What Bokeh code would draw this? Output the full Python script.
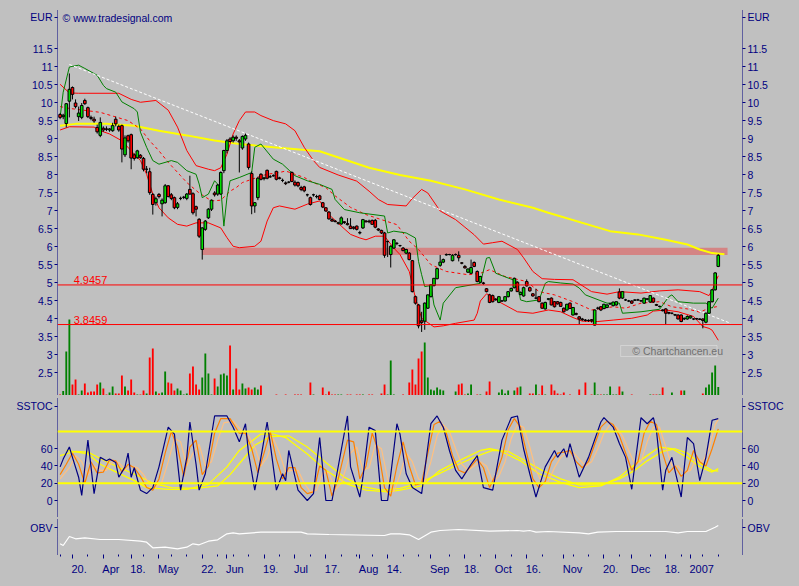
from bokeh.plotting import figure
from bokeh.models import (ColumnDataSource, Range1d, LinearAxis, FixedTicker, Span, Label,
                          BoxAnnotation, CustomJSTickFormatter)
from bokeh.layouts import column
from bokeh.embed import file_html
from bokeh.resources import INLINE

# ---------------- data (trading-day index 0 = 14 Mar 2006 ... 213 = 15 Jan 2007) ----------------
open_ = [9.68, 9.62, 9.43, 10.05, 10.43, 10.00, 9.62, 9.60, 10.07, 9.87,
         9.60, 9.55, 9.32, 9.10, 9.30, 9.28, 9.25, 9.23, 9.55, 9.35,
         9.37, 8.56, 9.09, 9.12, 8.56, 8.48, 8.55, 8.46, 8.16, 8.09,
         7.46, 7.23, 7.46, 7.20, 7.23, 7.70, 7.45, 7.37, 7.10, 7.35,
         7.38, 7.35, 7.60, 7.48, 7.12, 6.77, 5.93, 6.49, 6.81, 7.05,
         7.50, 7.47, 7.47, 8.12, 8.68, 9.00, 8.95, 9.05, 8.95, 8.75,
         9.00, 8.86, 8.04, 7.14, 7.37, 8.02, 7.90, 8.13, 7.95, 7.98,
         8.10, 7.92, 7.85, 7.78, 7.80, 8.07, 7.80, 7.79, 7.65, 7.67,
         7.45, 7.37, 7.45, 7.40, 7.42, 7.23, 7.09, 6.97, 6.76, 6.72,
         6.66, 6.64, 6.70, 6.65, 6.58, 6.55, 6.58, 6.40, 6.53, 6.72,
         6.72, 6.74, 6.74, 6.50, 6.46, 6.39, 6.15, 5.79, 5.97, 6.10,
         6.04, 5.97, 5.83, 5.83, 5.62, 4.62, 4.39, 3.95, 3.94, 4.30,
         4.62, 4.93, 5.12, 5.49, 5.58, 5.78, 5.79, 5.62, 5.79, 5.77,
         5.56, 5.46, 5.30, 5.27, 5.57, 5.32, 5.02, 5.00, 4.84, 4.67,
         4.65, 4.55, 4.46, 4.50, 4.50, 4.62, 4.78, 4.87, 5.02, 4.68,
         4.64, 5.04, 4.87, 4.70, 4.58, 4.62, 4.44, 4.28, 4.55, 4.58,
         4.48, 4.48, 4.46, 4.30, 4.25, 4.44, 4.11, 4.15, 4.06, 4.00,
         3.97, 3.96, 3.98, 3.83, 4.30, 4.34, 4.29, 4.32, 4.42, 4.37,
         4.39, 4.75, 4.58, 4.53, 4.50, 4.50, 4.52, 4.53, 4.50, 4.44,
         4.55, 4.47, 4.58, 4.40, 4.35, 4.25, 4.28, 4.18, 4.16, 4.12,
         4.11, 4.11, 4.00, 4.00, 4.03, 4.00, 4.01, 4.00, 4.00, 3.91,
         4.16, 4.48, 4.81, 5.46]
high_ = [9.72, 9.70, 10.00, 10.82, 10.46, 10.10, 9.90, 10.00, 10.12, 9.90,
         9.65, 9.62, 9.40, 9.60, 9.35, 9.35, 9.30, 9.45, 9.62, 9.40,
         9.40, 9.10, 9.12, 9.15, 8.60, 8.70, 8.58, 8.50, 8.25, 8.20,
         7.50, 7.40, 7.50, 7.35, 7.75, 7.72, 7.50, 7.40, 7.25, 7.40,
         7.42, 7.50, 7.98, 7.52, 7.15, 6.80, 6.55, 6.75, 7.08, 7.32,
         7.55, 7.75, 8.10, 8.70, 9.00, 9.05, 9.10, 9.10, 9.00, 9.10,
         9.15, 8.90, 8.10, 7.25, 7.95, 8.05, 7.95, 8.15, 8.00, 8.02,
         8.12, 7.95, 7.90, 7.82, 7.83, 8.10, 7.85, 7.82, 7.70, 7.70,
         7.48, 7.40, 7.48, 7.45, 7.45, 7.25, 7.10, 7.00, 6.80, 6.75,
         6.70, 6.85, 6.72, 6.80, 6.80, 6.58, 6.60, 6.45, 6.78, 6.75,
         6.76, 6.76, 6.78, 6.52, 6.48, 6.42, 6.18, 6.05, 6.22, 6.14,
         6.06, 6.00, 5.95, 5.86, 5.64, 4.65, 4.42, 4.20, 4.46, 4.68,
         4.96, 5.14, 5.42, 5.78, 5.68, 5.82, 5.81, 5.80, 5.82, 5.88,
         5.58, 5.50, 5.40, 5.65, 5.60, 5.35, 5.20, 5.03, 4.86, 4.70,
         4.68, 4.58, 4.64, 4.53, 4.63, 4.77, 4.87, 5.15, 5.04, 4.76,
         4.90, 5.10, 4.90, 4.72, 4.84, 4.64, 4.46, 4.48, 4.58, 4.60,
         4.50, 4.50, 4.48, 4.32, 4.42, 4.46, 4.33, 4.18, 4.08, 4.03,
         4.00, 3.99, 4.00, 4.26, 4.34, 4.36, 4.42, 4.41, 4.45, 4.48,
         4.49, 4.85, 4.77, 4.56, 4.53, 4.52, 4.55, 4.56, 4.53, 4.59,
         4.58, 4.66, 4.60, 4.42, 4.37, 4.27, 4.30, 4.20, 4.18, 4.14,
         4.13, 4.13, 4.04, 4.10, 4.09, 4.02, 4.03, 4.02, 4.02, 4.18,
         4.50, 4.83, 5.30, 5.80]
low_ = [9.55, 9.55, 9.32, 9.60, 10.10, 9.85, 9.50, 9.55, 9.95, 9.58,
        9.52, 9.45, 9.15, 9.05, 9.20, 9.22, 9.20, 9.20, 9.35, 9.20,
        8.35, 8.50, 8.90, 8.16, 8.40, 8.45, 8.45, 8.10, 8.05, 7.45,
        6.90, 7.15, 7.35, 6.85, 7.20, 7.38, 7.30, 7.05, 7.05, 7.30,
        7.33, 7.30, 7.45, 6.90, 6.85, 6.25, 5.65, 6.45, 6.78, 7.00,
        7.40, 7.42, 7.45, 8.05, 8.60, 8.90, 8.90, 8.95, 8.07, 8.70,
        8.95, 8.15, 6.91, 6.95, 7.30, 7.85, 7.85, 7.88, 7.92, 7.95,
        7.85, 7.88, 7.80, 7.72, 7.77, 7.80, 7.68, 7.66, 7.55, 7.52,
        7.40, 7.15, 7.40, 7.35, 7.30, 7.08, 6.98, 6.76, 6.70, 6.68,
        6.62, 6.62, 6.64, 6.60, 6.50, 6.48, 6.46, 6.35, 6.50, 6.68,
        6.66, 6.62, 6.52, 6.44, 6.36, 5.70, 5.72, 5.43, 5.95, 6.05,
        6.00, 5.88, 5.80, 5.63, 4.74, 4.40, 3.74, 3.64, 3.70, 4.28,
        4.60, 4.90, 5.10, 5.45, 5.55, 5.76, 5.77, 5.60, 5.76, 5.60,
        5.52, 5.40, 5.28, 5.25, 5.44, 5.02, 5.00, 4.95, 4.74, 4.44,
        4.46, 4.50, 4.44, 4.48, 4.48, 4.60, 4.76, 4.85, 4.75, 4.66,
        4.62, 4.90, 4.76, 4.62, 4.55, 4.47, 4.28, 4.26, 4.52, 4.38,
        4.32, 4.40, 4.34, 4.18, 4.23, 4.28, 4.10, 4.10, 3.85, 3.95,
        3.93, 3.92, 3.90, 3.82, 4.26, 4.22, 4.27, 4.30, 4.40, 4.35,
        4.37, 4.55, 4.56, 4.50, 4.47, 4.42, 4.50, 4.50, 4.47, 4.42,
        4.52, 4.45, 4.45, 4.36, 4.32, 4.21, 3.85, 4.13, 4.13, 4.08,
        3.99, 3.91, 3.97, 3.98, 4.01, 3.97, 3.98, 3.97, 3.74, 3.88,
        4.14, 4.46, 4.79, 5.44]
close_ = [9.60, 9.66, 9.98, 10.38, 10.24, 9.90, 9.72, 9.93, 9.98, 9.62,
          9.57, 9.50, 9.20, 9.46, 9.25, 9.27, 9.28, 9.37, 9.42, 9.25,
          8.72, 9.03, 8.95, 8.47, 8.46, 8.67, 8.48, 8.16, 8.16, 7.51,
          7.18, 7.34, 7.40, 7.30, 7.70, 7.40, 7.35, 7.09, 7.20, 7.35,
          7.38, 7.47, 7.47, 6.95, 7.05, 6.30, 6.53, 6.72, 7.05, 7.30,
          7.45, 7.72, 8.07, 8.68, 8.95, 8.93, 9.05, 9.02, 8.92, 9.07,
          9.10, 8.21, 7.14, 7.23, 7.91, 7.88, 7.92, 7.91, 7.95, 7.98,
          7.88, 7.90, 7.85, 7.76, 7.80, 7.82, 7.72, 7.70, 7.60, 7.56,
          7.45, 7.18, 7.45, 7.40, 7.32, 7.11, 7.00, 6.78, 6.72, 6.71,
          6.67, 6.81, 6.68, 6.62, 6.51, 6.52, 6.49, 6.39, 6.76, 6.70,
          6.70, 6.63, 6.55, 6.47, 6.39, 5.77, 6.15, 6.02, 6.20, 6.10,
          6.04, 5.90, 5.93, 5.65, 4.76, 4.44, 3.81, 3.90, 4.44, 4.67,
          4.95, 5.13, 5.40, 5.58, 5.65, 5.79, 5.79, 5.77, 5.79, 5.70,
          5.55, 5.42, 5.39, 5.43, 5.46, 5.04, 5.18, 4.99, 4.76, 4.46,
          4.48, 4.54, 4.62, 4.50, 4.62, 4.76, 4.85, 5.13, 4.76, 4.74,
          4.87, 4.92, 4.78, 4.64, 4.58, 4.48, 4.30, 4.46, 4.56, 4.39,
          4.34, 4.42, 4.35, 4.20, 4.41, 4.29, 4.32, 4.13, 4.00, 3.98,
          3.96, 3.96, 3.95, 4.25, 4.30, 4.25, 4.41, 4.39, 4.42, 4.47,
          4.48, 4.58, 4.76, 4.53, 4.50, 4.44, 4.53, 4.53, 4.51, 4.58,
          4.56, 4.65, 4.47, 4.38, 4.35, 4.23, 4.16, 4.16, 4.16, 4.11,
          4.00, 3.93, 4.02, 4.07, 4.08, 4.00, 4.00, 3.99, 3.96, 4.16,
          4.48, 4.81, 5.28, 5.77]
volume = [1, 4.5, 44, 76, 11, 16, 1, 5, 12, 3,
          4, 4, 11, 13, 7, 1, 3, 9, 2, 2,
          20, 9, 5, 16, 3, 1, 1, 5, 2, 38,
          47, 4, 2, 3, 24, 13, 12, 5, 7, 5,
          1, 2, 22, 29, 11, 6, 18, 42, 22, 1,
          17, 9, 21, 22, 20, 50, 6, 27, 6, 12,
          7, 8, 6, 8, 6, 10, 0, 0, 0, 0,
          1, 0, 0, 1, 0, 0, 1, 1, 1, 0,
          0, 13, 1, 0, 0, 8, 1, 4, 1, 1,
          1, 1, 0, 1, 1, 0, 1, 1, 1, 0,
          1, 1, 0, 0, 2, 11, 1, 35, 1, 0,
          0, 1, 0, 13, 26, 11, 37, 44, 53, 18,
          6, 5, 8, 6, 5, 0, 0, 0, 4, 11,
          12, 1, 2, 11, 0, 1, 1, 0, 4, 14,
          0, 0, 3, 6, 2, 5, 0, 5, 8, 9,
          0, 0, 2, 2, 11, 1, 10, 1, 0, 11,
          5, 2, 1, 3, 0, 1, 0, 0, 6, 0,
          13, 0, 1, 13, 1, 1, 1, 1, 9, 1,
          1, 9, 4, 0, 0, 1, 0, 0, 0, 0,
          0, 1, 1, 1, 1, 8, 0, 0, 3, 0,
          0, 5, 5, 0, 0, 0, 0, 0, 2, 8,
          11, 23, 30, 8.5]

# Bollinger bands (red)
upper_x = [0, 3, 6, 19, 23, 26, 31, 35, 38, 41, 44, 48, 50, 52, 54, 56, 58, 60, 63, 65,
           69, 73, 76, 79, 82, 84, 90, 96, 100, 103, 106, 112, 114, 117, 119, 123, 128, 131, 134, 137,
           140, 143, 148, 150, 153, 156, 160, 166, 172, 177, 181, 188, 194, 200, 207, 210, 211, 212, 213]
upper_y = [10.52, 10.28, 10.27, 10.27, 10.1, 10.02, 10.07, 9.8, 9.33, 8.68, 8.26, 8.16, 8.12, 8.2, 8.58, 9.14, 9.51, 9.75, 9.75, 9.65,
           9.51, 9.42, 9.23, 8.77, 8.4, 8.21, 8.0, 7.83, 7.55, 7.32, 7.18, 7.14, 7.35, 7.6, 7.5, 7.0, 6.76, 6.55, 6.34, 6.08,
           6.12, 6.16, 5.93, 5.7, 5.32, 5.12, 5.1, 5.09, 4.76, 4.69, 4.76, 4.72, 4.78, 4.81, 4.76, 4.65, 4.8, 5.0, 5.2]
lower_x = [0, 3, 11, 13, 16, 20, 24, 26, 28, 30, 32, 35, 38, 41, 44, 48, 52, 54, 56, 58,
           63, 65, 67, 69, 71, 76, 80, 84, 87, 91, 94, 97, 99, 102, 105, 108, 110, 113, 115, 117,
           121, 124, 128, 134, 135, 136, 138, 140, 142, 148, 153, 158, 162, 166, 169, 174, 179, 185, 190, 192,
           196, 200, 205, 208, 210, 211, 213]
lower_y = [9.25, 9.34, 9.33, 9.23, 9.14, 8.95, 8.58, 8.4, 8.02, 7.47, 7.09, 6.81, 6.63, 6.58, 6.67, 6.67, 6.53, 6.26, 6.02, 5.98,
           6.02, 6.16, 6.72, 7.09, 7.14, 7.05, 7.19, 7.28, 6.9, 6.58, 6.35, 6.25, 6.2, 6.3, 6.3, 5.97, 5.79, 5.32, 4.58, 4.02,
           3.78, 3.81, 3.88, 3.97, 4.16, 4.5, 4.7, 4.62, 4.48, 4.2, 4.16, 4.25, 4.2, 4.04, 3.94, 3.93, 3.97, 4.02, 4.11, 4.22,
           4.25, 4.2, 4.07, 3.79, 3.74, 3.69, 3.41]
middle_x = [0, 3, 13, 22, 26, 29, 32, 35, 39, 41, 45, 49, 52, 55, 57, 59, 62, 65, 67, 71,
            73, 76, 79, 82, 86, 89, 94, 99, 104, 109, 113, 116, 120, 125, 132, 136, 139, 144, 151, 155,
            160, 166, 172, 179, 183, 188, 194, 198, 203, 207, 210, 213]
middle_y = [9.9, 9.85, 9.74, 9.51, 9.28, 8.95, 8.67, 8.35, 7.98, 7.79, 7.5, 7.28, 7.3, 7.55, 7.65, 7.79, 7.88, 7.97, 8.02, 8.07,
            8.11, 8.02, 7.93, 7.79, 7.65, 7.42, 7.1, 6.9, 6.76, 6.62, 6.16, 5.93, 5.51, 5.32, 5.23, 5.27, 5.37, 5.18, 5.04, 4.76,
            4.67, 4.48, 4.25, 4.34, 4.3, 4.44, 4.48, 4.34, 4.28, 4.19, 4.3, 4.35]
# green trailing stop
stop_x = [0, 1, 3, 6, 8, 12, 14, 15, 18, 20, 24, 25, 26, 28, 30, 32, 36, 38, 41, 44,
          45, 46, 48, 50, 52, 53, 54, 55, 58, 62, 63, 65, 69, 72, 76, 80, 84, 88, 89, 92,
          97, 105, 106, 108, 112, 115, 116, 117, 118, 120, 121, 123, 124, 128, 136, 138, 139, 141, 148, 149,
          151, 155, 157, 158, 162, 166, 168, 170, 177, 181, 182, 188, 194, 197, 198, 200, 205, 209, 211, 213]
stop_y = [9.6, 10.3, 11.0, 11.05, 10.96, 10.77, 10.49, 10.4, 10.3, 10.03, 9.84, 9.75, 9.19, 8.77, 8.4, 8.3, 8.4, 8.35, 8.12, 8.02,
          7.75, 7.37, 7.47, 7.84, 7.65, 6.58, 7.37, 7.84, 7.93, 8.07, 8.77, 8.86, 8.44, 8.3, 7.98, 7.84, 7.74, 7.6, 7.32, 7.04,
          6.95, 6.86, 6.39, 6.44, 6.39, 6.25, 5.6, 5.23, 4.9, 4.93, 4.39, 3.97, 4.44, 4.87, 4.99, 5.69, 5.71, 5.27, 5.04, 4.53,
          4.48, 4.53, 4.99, 5.04, 5.0, 4.97, 4.86, 4.67, 4.44, 4.44, 4.16, 4.2, 4.27, 4.62, 4.67, 4.48, 4.44, 4.44, 4.3, 4.58]
# long moving average (yellow)
ma_x = [0, 5, 15, 24, 32, 41, 50, 58, 69, 84, 100, 110, 120, 131, 142, 153, 158, 178, 187, 196, 203, 207, 211, 215]
ma_y = [9.37, 9.42, 9.42, 9.37, 9.23, 9.1, 8.96, 8.86, 8.77, 8.66, 8.2, 8.0, 7.84, 7.6, 7.32, 7.09, 6.95, 6.44, 6.35, 6.2,
        6.07, 5.93, 5.83, 5.8]
trend_x = [3, 217]
trend_y = [11.07, 3.88]
levels = [4.9457, 3.8459]
level_labels = ["4.9457", "3.8459"]
zone_low, zone_high = 5.78, 5.98

# SSTOC panel
stoch_k_x = [0, 1, 3, 4, 6, 7, 9, 11, 13, 15, 16, 18, 19, 21, 22, 23, 24, 26, 28, 30,
             32, 35, 37, 39, 41, 42, 44, 45, 47, 50, 54, 56, 58, 60, 61, 63, 65, 67, 68, 70,
             72, 73, 74, 77, 80, 82, 84, 86, 88, 93, 94, 97, 98, 100, 102, 104, 106, 109, 110, 112,
             114, 117, 120, 122, 124, 126, 128, 130, 133, 135, 137, 140, 143, 146, 148, 150, 152, 154, 157, 160,
             161, 163, 164, 165, 168, 171, 175, 176, 179, 181, 183, 185, 188, 190, 192, 193, 195, 196, 198, 201,
             203, 205, 207, 209, 211, 213]
stoch_k_y = [39, 48, 62, 50, 27, 6, 70, 8, 50, 46, 48, 44, 27, 39, 55, 27, 38, 12, 8, 15,
             39, 85, 77, 12, 50, 91, 42, 12, 31, 98, 98, 85, 68, 89, 54, 12, 50, 91, 66, 12,
             31, 23, 58, 12, 0, 8, 73, 0, 0, 98, 39, 4, 27, 85, 81, 0, 0, 89, 77, 31,
             15, 8, 89, 98, 85, 58, 35, 25, 42, 52, 15, 12, 70, 96, 98, 60, 31, 4, 39, 58,
             50, 60, 50, 66, 27, 50, 91, 96, 85, 66, 50, 13, 96, 89, 96, 81, 12, 35, 50, 4,
             73, 66, 23, 50, 93, 95]
stoch_d_x = [0, 2, 4, 6, 8, 10, 12, 14, 16, 18, 20, 22, 24, 26, 28, 30, 32, 34, 36, 38,
             40, 42, 44, 46, 48, 50, 52, 55, 58, 60, 62, 64, 66, 68, 70, 72, 74, 76, 78, 80,
             82, 84, 86, 88, 90, 93, 95, 97, 99, 101, 103, 105, 107, 109, 111, 113, 115, 117, 119, 121,
             123, 125, 127, 129, 131, 133, 135, 137, 139, 141, 143, 145, 147, 149, 151, 153, 155, 157, 159, 161,
             163, 165, 167, 169, 171, 173, 175, 177, 179, 181, 183, 185, 187, 189, 191, 193, 195, 197, 199, 201,
             203, 205, 207, 209, 211, 213]
stoch_d_y = [30, 42, 55, 42, 20, 45, 32, 33, 47, 46, 33, 42, 38, 28, 15, 12, 25, 55, 80, 62,
             28, 62, 70, 30, 40, 78, 95, 95, 78, 78, 60, 32, 55, 80, 48, 25, 38, 38, 15, 8,
             10, 40, 35, 5, 25, 70, 68, 25, 40, 78, 58, 15, 5, 40, 68, 40, 18, 20, 55, 88,
             92, 78, 52, 35, 32, 40, 48, 38, 15, 30, 50, 82, 95, 85, 55, 25, 15, 22, 45, 55,
             56, 58, 45, 38, 45, 65, 85, 92, 88, 75, 55, 35, 45, 78, 92, 88, 55, 32, 40, 28,
             35, 58, 45, 40, 60, 83]
stoch_s_x = [0, 3, 5, 7, 9, 11, 13, 15, 17, 19, 21, 23, 25, 27, 29, 31, 33, 35, 37, 39,
             41, 43, 45, 47, 49, 51, 53, 56, 59, 61, 63, 65, 67, 69, 71, 73, 75, 77, 79, 81,
             83, 85, 87, 89, 91, 94, 96, 98, 100, 102, 104, 106, 108, 110, 112, 114, 116, 118, 120, 122,
             124, 126, 128, 130, 132, 134, 136, 138, 140, 142, 144, 146, 148, 150, 152, 154, 156, 158, 160, 162,
             164, 166, 168, 170, 172, 174, 176, 178, 180, 182, 184, 186, 188, 190, 192, 194, 196, 198, 200, 202,
             204, 206, 208, 210, 212, 213]
stoch_s_y = [25, 38, 52, 45, 30, 40, 35, 35, 45, 44, 36, 40, 38, 30, 18, 15, 22, 45, 72, 68,
             40, 55, 65, 40, 45, 70, 90, 92, 80, 75, 62, 40, 50, 72, 55, 33, 35, 35, 20, 10,
             12, 32, 32, 12, 20, 55, 62, 35, 38, 65, 60, 25, 10, 30, 55, 45, 25, 22, 45, 75,
             88, 80, 60, 42, 35, 40, 45, 40, 22, 28, 45, 72, 88, 85, 62, 35, 20, 22, 38, 50,
             55, 56, 48, 40, 45, 60, 78, 88, 85, 75, 58, 42, 45, 68, 85, 85, 62, 40, 40, 32,
             35, 50, 45, 60, 88, 94]
slow1_x = [2, 9, 13, 17, 24, 28, 35, 41, 48, 54, 58, 65, 69, 73, 80, 86, 93, 99, 106, 110,
           117, 123, 129, 136, 139, 142, 149, 155, 162, 168, 175, 181, 185, 190, 194, 198, 203, 207, 211, 213]
slow1_y = [58, 54, 42, 35, 23, 15, 13, 13, 19, 39, 58, 77, 77, 73, 54, 35, 19, 12, 10, 12,
           17, 35, 46, 58, 60, 58, 46, 31, 21, 15, 17, 27, 39, 52, 62, 60, 50, 39, 33, 37]
slow2_x = [0, 5, 9, 14, 18, 25, 30, 36, 44, 51, 55, 59, 63, 68, 74, 80, 86, 92, 98, 104,
           110, 116, 122, 129, 136, 140, 145, 150, 156, 162, 168, 175, 181, 186, 190, 195, 199, 203, 207, 211, 213]
slow2_y = [52, 57, 56, 47, 40, 29, 20, 15, 14, 17, 30, 47, 64, 74, 75, 62, 44, 27, 16, 12,
           14, 20, 30, 42, 53, 58, 57, 47, 35, 25, 18, 18, 25, 35, 46, 57, 60, 55, 43, 35, 34]
stoch_levels = [80, 20]

# OBV panel (relative units)
obv_x = [0, 1, 3, 5, 8, 13, 19, 26, 28, 30, 34, 38, 41, 43, 45, 48, 51, 54, 56, 58,
         65, 78, 80, 87, 105, 107, 110, 113, 116, 120, 123, 129, 139, 148, 150, 152, 154, 158, 168, 171,
         174, 180, 196, 200, 203, 209, 212, 213]
obv_y = [10.7, 9, 18, 15.7, 16.7, 15, 15, 13.3, 12.3, 6.7, 7.3, 5.7, 7.3, 10.7, 9.7, 13.3, 14.7, 20.7, 21.7, 20.7,
         22.3, 22.3, 20.7, 20, 19, 20.7, 20.7, 19.7, 15, 22.3, 24, 25, 23.3, 24, 23.3, 24, 22.3, 23, 21.7, 20.7,
         22.3, 23, 23, 21.7, 23, 23, 27.3, 29]

# axis ticks / labels (the panel captions sit at the top of each value axis)
price_ticks = [2.5, 3.0, 3.5, 4.0, 4.5, 5.0, 5.5, 6.0, 6.5, 7.0, 7.5, 8.0, 8.5, 9.0, 9.5, 10.0, 10.5, 11.0, 11.5, 12.375]
price_tick_labels = ["2.5", "3", "3.5", "4", "4.5", "5", "5.5", "6", "6.5", "7", "7.5", "8", "8.5", "9", "9.5",
                     "10", "10.5", "11", "11.5", "EUR"]
stoch_ticks = [0.0, 20.0, 40.0, 60.0, 109.0]
stoch_tick_labels = ["0", "20", "40", "60", "SSTOC"]
obv_ticks = [27.0]
obv_tick_labels = ["OBV"]
x_tick_idx = [4, 14, 23, 32, 46, 54, 66, 76, 86, 97, 106, 120, 131, 141, 151, 163, 176, 185, 196, 204]
x_tick_labels = ["20.", "Apr", "18.", "May", "22.", "Jun", "19.", "Jul", "17.", "Aug", "14.", "Sep", "18.",
                 "Oct", "16.", "Nov", "20.", "Dec", "18.", "2007"]
x_minor_idx = [0, 9, 19, 27, 36, 41, 51, 56, 61, 71, 81, 91, 96, 101, 111, 116, 126, 136, 146, 156, 166, 171,
               181, 191, 201, 208, 213]

# ---------------- chart ----------------
n = len(close_)
for arr in (open_, high_, low_, volume):
    assert len(arr) == n, len(arr)
idx = list(range(n))

BG = "#C0C0C0"
NAVY = "#000080"
FONT = "Liberation Sans"
W = 799
FRAME_L, FRAME_R = 57, 57
XR = Range1d(-0.841, 220.84)
PX_PER_DAY = (W - FRAME_L - FRAME_R) / (XR.end - XR.start)


def make_fig(height, yr, top, bottom):
    p = figure(width=W, height=height, x_range=XR, y_range=yr, output_backend="svg",
               toolbar_location=None, x_axis_location=None, y_axis_location=None,
               min_border_left=FRAME_L, min_border_right=FRAME_R, min_border_top=top,
               min_border_bottom=bottom, background_fill_color=BG, border_fill_color=BG,
               outline_line_color=None)
    p.grid.visible = False
    return p


def overrides(ticks, labels):
    ov = {}
    for t, l in zip(ticks, labels):
        ov[float(t)] = l
        ov[repr(float(t)) if float(t) != int(t) else str(int(t))] = l
    return ov


def add_yaxes(p, ticks, labels):
    for side in ("left", "right"):
        ax = LinearAxis(ticker=FixedTicker(ticks=ticks),
                        axis_line_color=NAVY, axis_line_dash="1 1", axis_line_width=1,
                        major_tick_line_color=NAVY, major_tick_in=0, major_tick_out=3,
                        minor_tick_line_color=None,
                        major_label_text_color=NAVY, major_label_text_font=FONT,
                        major_label_text_font_size="10.5px", major_label_standoff=2)
        ax.major_label_overrides = overrides(ticks, labels)
        p.add_layout(ax, side)


# ---- main price panel ----
p1 = make_fig(395, Range1d(1.875, 12.569), 10, 0)
p1.extra_y_ranges = {"vol": Range1d(0, 385)}
add_yaxes(p1, price_ticks, price_tick_labels)

p1.add_layout(BoxAnnotation(left=46, right=216, bottom=zone_low, top=zone_high,
                            fill_color="#D48484", fill_alpha=1.0, line_color=None, level="underlay"))

up_col = ["#00E000" if c > o else ("#FF0000" if c < o else "#000000") for o, c in zip(open_, close_)]
vol_col = ["#008000" if c >= o else "#FF0000" for o, c in zip(open_, close_)]
src = ColumnDataSource(dict(x=idx, o=open_, h=high_, l=low_, c=close_,
                            top=[max(o, c) for o, c in zip(open_, close_)],
                            bot=[min(o, c) for o, c in zip(open_, close_)],
                            col=up_col, vol=volume, vcol=vol_col))

p1.vbar(x="x", width=0.6, top="vol", bottom=0, fill_color="vcol", line_color=None,
        y_range_name="vol", source=src)
p1.line(ma_x, ma_y, line_color="#FFFF00", line_width=2)
p1.line(upper_x, upper_y, line_color="#FF0000", line_width=1)
p1.line(lower_x, lower_y, line_color="#FF0000", line_width=1)
p1.line(middle_x, middle_y, line_color="#FF0000", line_width=1, line_dash="3 3")
p1.line(stop_x, stop_y, line_color="#008000", line_width=1)
p1.line(trend_x, trend_y, line_color="#FFFFFF", line_width=1, line_dash="3 2")
p1.segment(x0="x", y0="l", x1="x", y1="h", line_color="#000000", line_width=1, source=src)
p1.vbar(x="x", width=0.85, top="top", bottom="bot", fill_color="col", line_color="#000000",
        line_width=1, source=src)

for lv, lt in zip(levels, level_labels):
    p1.add_layout(Span(location=lv, dimension="width", line_color="#FF0000", line_width=1))
    p1.add_layout(Label(x=4.4, y=lv, text=lt, y_offset=1, text_align="left", text_baseline="bottom",
                        text_font=FONT, text_font_size="11px", text_color="#FF0000"))

p1.add_layout(BoxAnnotation(left=181.4, right=212.6, bottom=2.958, top=3.264, fill_alpha=0,
                            line_color="#FFFFFF", line_width=1))
p1.add_layout(Label(x=185.2, y=3.11, text="\u00a9 Chartchancen.eu", text_align="left",
                    text_baseline="middle", text_font=FONT, text_font_size="10.5px",
                    text_color="#707070"))
p1.add_layout(Label(x=5, y=378, x_units="screen", y_units="screen", text="\u00a9 www.tradesignal.com",
                    text_align="left", text_baseline="middle", text_font=FONT,
                    text_font_size="10.5px", text_color=NAVY))

# ---- SSTOC panel ----
p2 = make_fig(122, Range1d(-19.71, 118.26), 3, 0)
add_yaxes(p2, stoch_ticks, stoch_tick_labels)
p2.line(slow1_x, slow1_y, line_color="#FFFF00", line_width=1.3)
p2.line(slow2_x, slow2_y, line_color="#FFFF00", line_width=1.3)
p2.line(stoch_s_x, stoch_s_y, line_color="#FFC080", line_width=1.2)
p2.line(stoch_d_x, stoch_d_y, line_color="#FF8000", line_width=1.2)
p2.line(stoch_k_x, stoch_k_y, line_color="#000080", line_width=1.2)
for lv in stoch_levels:
    p2.add_layout(Span(location=lv, dimension="width", line_color="#FFFF00", line_width=2))

# ---- OBV panel + time axis ----
p3 = make_fig(69, Range1d(0, 35), 2, 32)
add_yaxes(p3, obv_ticks, obv_tick_labels)
p3.line(obv_x, obv_y, line_color="#FFFFFF", line_width=1.2)

# tick marks only
xa = LinearAxis(ticker=FixedTicker(ticks=x_tick_idx, minor_ticks=x_minor_idx),
                axis_line_color=None, major_tick_line_color=NAVY, major_tick_in=0, major_tick_out=4,
                minor_tick_line_color=NAVY, minor_tick_in=0, minor_tick_out=2,
                formatter=CustomJSTickFormatter(code="return ''"),
                major_label_text_font_size="1px", major_label_standoff=0)
p3.add_layout(xa, "below")

# labels, left-aligned at their tick (Arial/Liberation advance widths, 1/1000 em)
ADV = {'0': 556, '1': 556, '2': 556, '3': 556, '4': 556, '5': 556, '6': 556, '7': 556, '8': 556, '9': 556,
       '.': 278, 'A': 667, 'p': 556, 'r': 333, 'M': 833, 'a': 556, 'y': 500, 'J': 500, 'u': 556, 'n': 556,
       'l': 222, 'g': 556, 'S': 667, 'e': 556, 'O': 778, 'c': 500, 't': 278, 'N': 722, 'o': 556, 'v': 500,
       'D': 722}
XLAB_SIZE = 11


def text_width(s):
    return sum(ADV.get(ch, 556) for ch in s) * XLAB_SIZE / 1000.0


label_pos = [t + (text_width(s) / 2.0 - 1.0) / PX_PER_DAY for t, s in zip(x_tick_idx, x_tick_labels)]
xl = LinearAxis(ticker=FixedTicker(ticks=label_pos), axis_line_color=None,
                major_tick_line_color=None, minor_tick_line_color=None,
                major_tick_in=0, major_tick_out=0,
                major_label_text_color=NAVY, major_label_text_font=FONT,
                major_label_text_font_size=f"{XLAB_SIZE}px", major_label_standoff=4)
xl.major_label_overrides = {float(t): s for t, s in zip(label_pos, x_tick_labels)}
p3.add_layout(xl, "below")

layout = column(p1, p2, p3)
html = file_html(layout, INLINE, title="SSTOC chart")
html = html.replace("</head>", "<style>html, body {background-color: #C0C0C0;}</style></head>", 1)
open("out.html", "w").write(html)
